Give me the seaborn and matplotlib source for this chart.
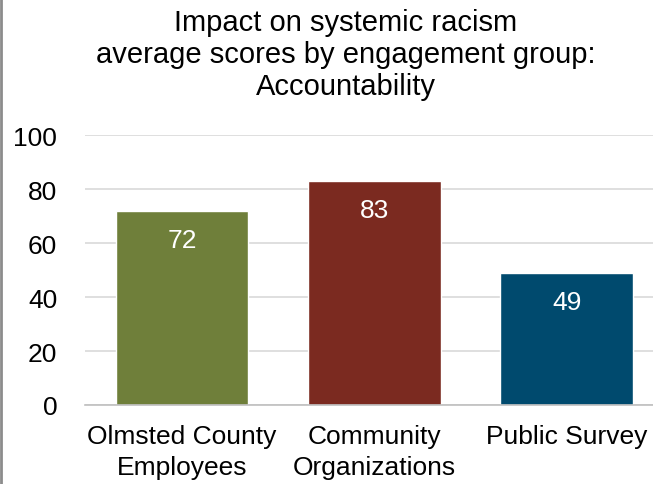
# Bar chart: systemic racism impact scores (Accountability) by engagement group
import pandas as pd
import seaborn as sns
import matplotlib.pyplot as plt
from matplotlib.lines import Line2D

groups = ['Olmsted County\nEmployees', 'Community\nOrganizations', 'Public Survey']
scores = [72, 83, 49]
colors = ['#6F7F3A', '#7B2A20', '#004A6E']
title = 'Impact on systemic racism\naverage scores by engagement group:\nAccountability'

df = pd.DataFrame({'group': groups, 'score': scores})

sns.set_style('white')
plt.rcParams['font.family'] = ['Liberation Sans', 'DejaVu Sans']

fig = plt.figure(figsize=(6.53, 4.85), dpi=100)
ax = fig.add_axes([85 / 653, 1 - 406 / 485, 568 / 653, 270 / 485])

sns.barplot(data=df, x='group', y='score', hue='group', palette=colors,
            width=0.69, legend=False, ax=ax, saturation=1, zorder=3)

ax.set_ylim(0, 100)
ax.set_xlim(-0.504, 2.449)
ax.set_yticks(range(0, 101, 20))
ax.yaxis.grid(True, color='#D9D9D9', linewidth=1.2, zorder=0)
ax.set_axisbelow(True)
for side in ['top', 'right', 'left']:
    ax.spines[side].set_visible(False)
ax.spines['bottom'].set_color('#BFBFBF')
ax.spines['bottom'].set_linewidth(1.2)
ax.spines['bottom'].set_zorder(4)
ax.set_xticks(range(len(groups)), groups, linespacing=1.33)
ax.tick_params(axis='both', length=0, labelsize=19, colors='black')
ax.tick_params(axis='y', pad=20)
ax.tick_params(axis='x', pad=14)
ax.set_xlabel('')
ax.set_ylabel('')

# value labels inside the bars, near the top
for i, v in enumerate(scores):
    ax.annotate(str(v), (i, v), xytext=(0, -21), textcoords='offset points',
                ha='center', va='center', color='white', fontsize=19, zorder=5)

fig.text(346 / 653, 1 - 55 / 485, title, ha='center', va='center',
         fontsize=21, linespacing=1.2, color='black')

# thin grey border along the left edge
fig.add_artist(Line2D([0.0015, 0.0015], [0, 1], transform=fig.transFigure,
                      color='#8C8C8C', linewidth=2))

fig.savefig('out.png', dpi=100)
